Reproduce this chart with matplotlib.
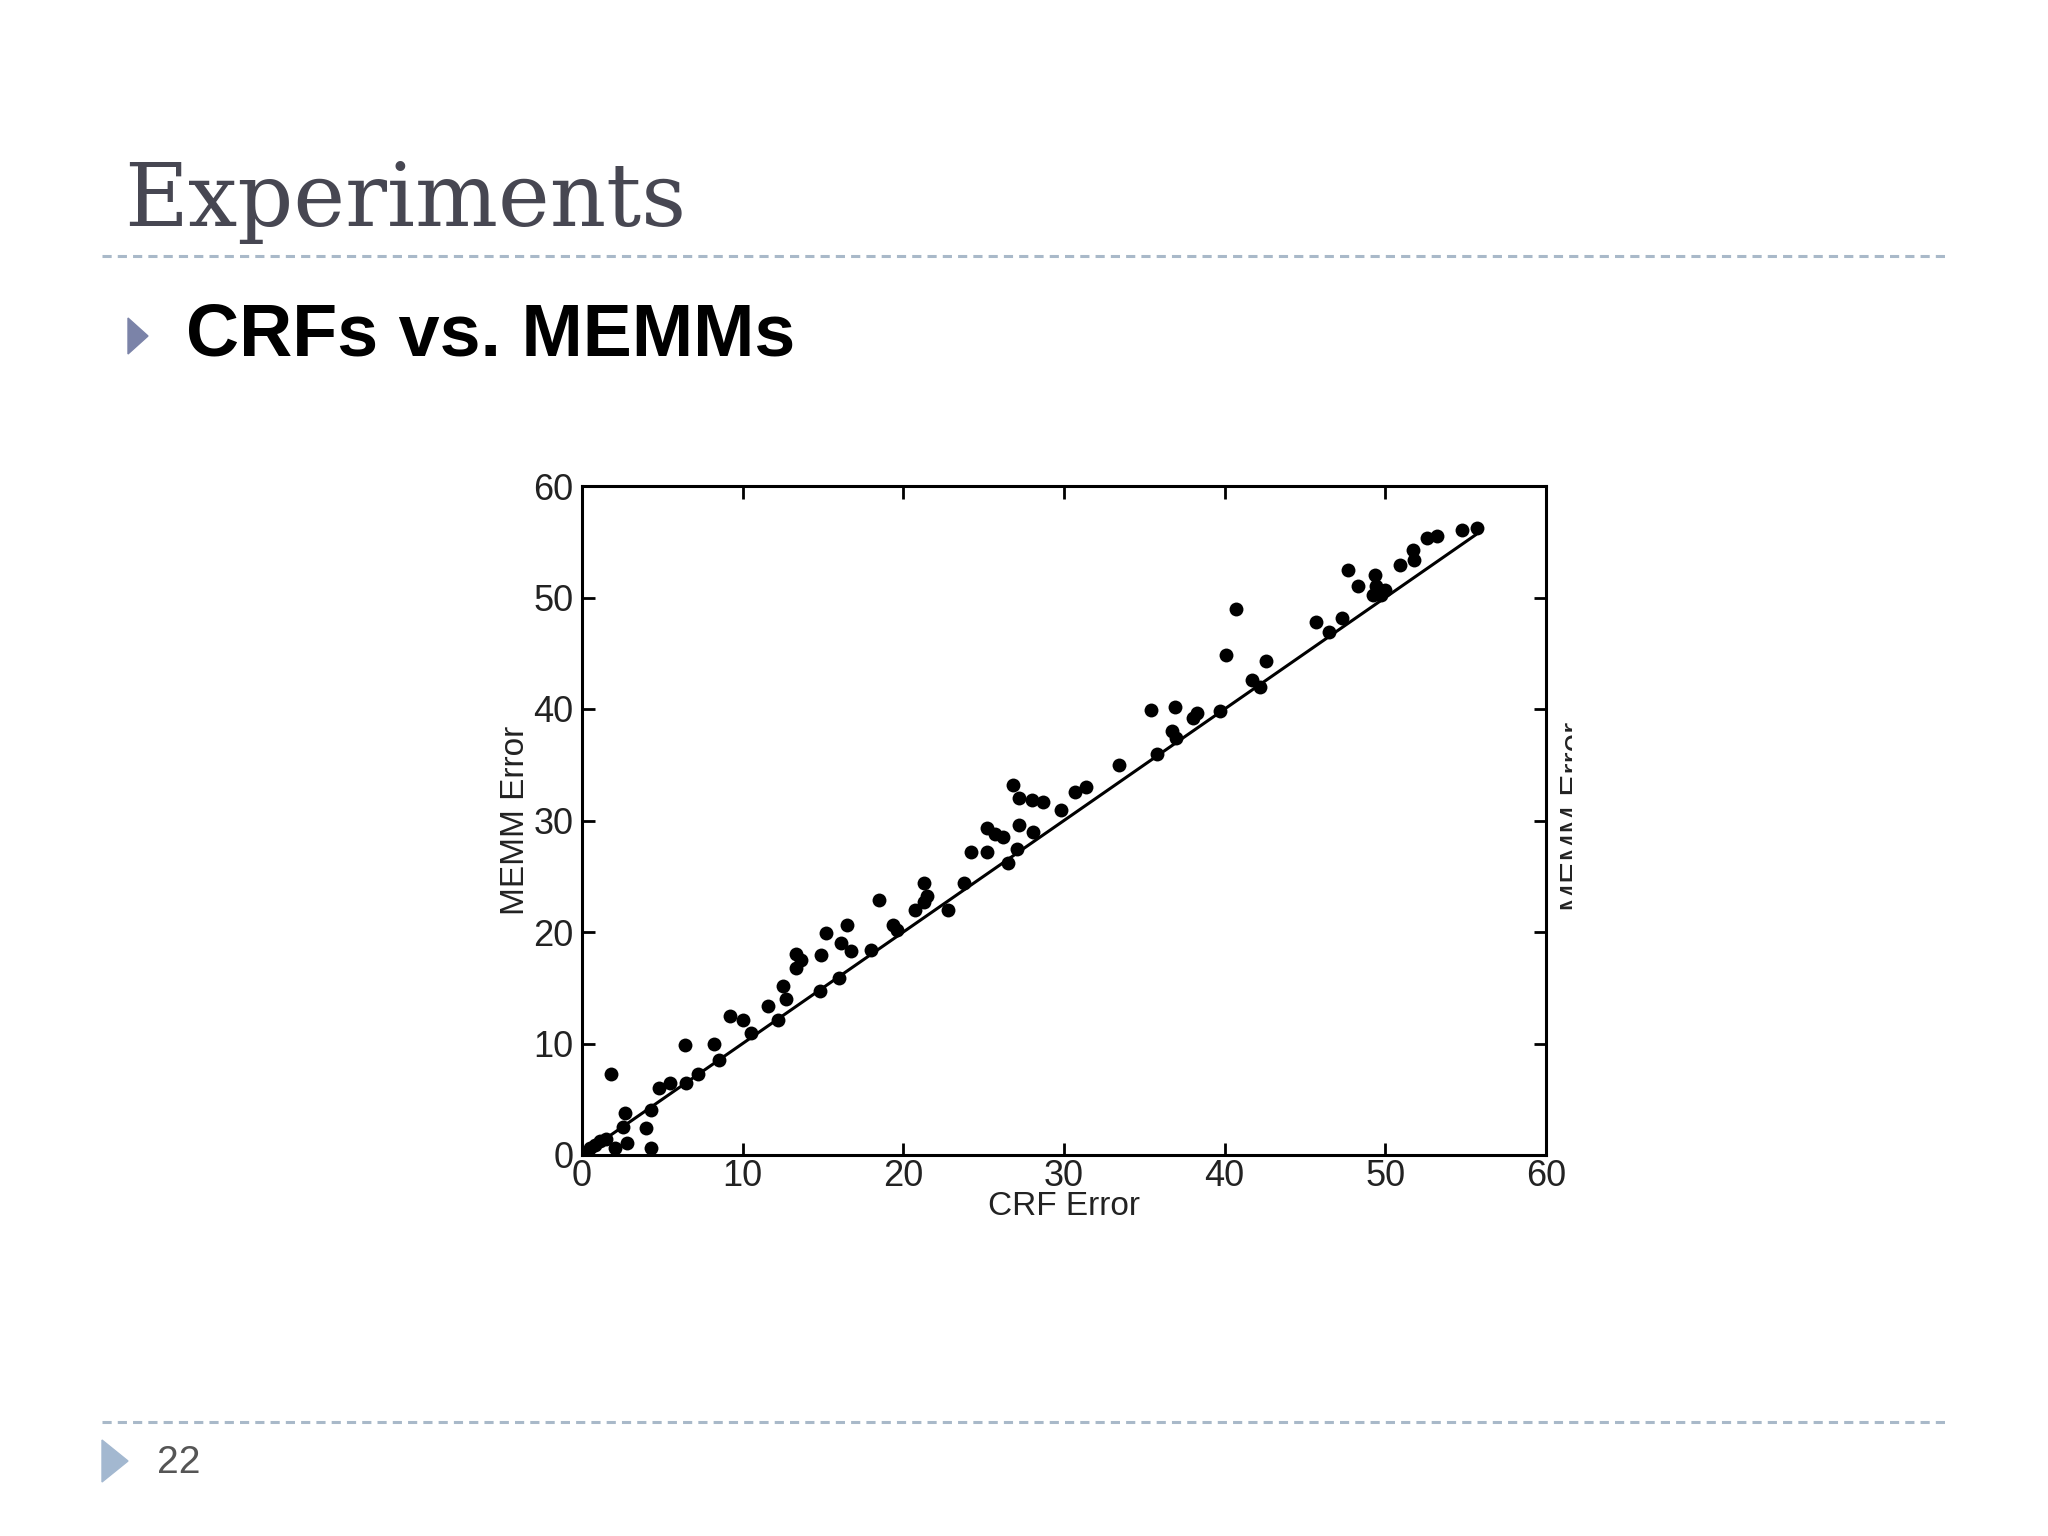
import matplotlib.pyplot as plt
from matplotlib.patches import Polygon

# Error values (CRF error vs MEMM error, in %)
crf_error = [0.3, 0.5, 0.8, 1.1, 1.5, 1.8, 2.05, 2.55, 2.7, 2.8, 4.0, 4.3, 4.3,
             4.8, 5.5, 6.4, 6.5, 7.2, 8.2, 8.5, 9.2, 10.0, 10.5, 11.6, 12.2,
             12.5, 12.7, 13.3, 13.3, 13.6, 14.8, 14.9, 15.2, 16.0, 16.1, 16.5,
             16.75, 18.0, 18.5, 19.35, 19.6, 20.7, 21.3, 21.3, 21.5, 22.8,
             23.8, 24.2, 25.2, 25.2, 25.7, 26.2, 26.5, 26.8, 27.1, 27.2, 27.2,
             28.0, 28.1, 28.7, 29.8, 30.7, 31.4, 33.4, 35.4, 35.8, 36.7, 36.9,
             37.0, 38.0, 38.3, 39.7, 40.1, 40.7, 41.7, 42.2, 42.6, 45.7, 46.5,
             47.3, 47.7, 48.3, 49.25, 49.35, 49.45, 49.7, 50.0, 50.9, 51.7,
             51.8, 52.6, 53.2, 54.8, 55.7]
memm_error = [0.2, 0.6, 0.9, 1.3, 1.4, 7.3, 0.6, 2.5, 3.8, 1.1, 2.4, 0.6, 4.0,
              6.0, 6.5, 9.9, 6.5, 7.3, 10.0, 8.5, 12.5, 12.1, 10.9, 13.4, 12.1,
              15.2, 14.0, 18.0, 16.8, 17.5, 14.7, 17.9, 19.9, 15.9, 19.0, 20.6,
              18.3, 18.4, 22.9, 20.6, 20.2, 22.0, 24.4, 22.7, 23.2, 22.0,
              24.4, 27.2, 27.2, 29.3, 28.8, 28.5, 26.2, 33.2, 27.4, 29.6, 32.0,
              31.8, 29.0, 31.7, 30.9, 32.6, 33.0, 35.0, 39.9, 36.0, 38.0, 40.2,
              37.4, 39.2, 39.6, 39.8, 44.8, 49.0, 42.6, 42.0, 44.3, 47.8, 46.9,
              48.2, 52.5, 51.0, 50.2, 52.0, 51.0, 50.2, 50.7, 52.9, 54.3,
              53.4, 55.3, 55.5, 56.05, 56.2]

# y = x reference line
diag_x = [0, 55.6]
diag_y = [0, 55.6]

ticks = [0, 10, 20, 30, 40, 50, 60]

W, H = 2048, 1536
fig = plt.figure(figsize=(W / 100, H / 100), dpi=100, facecolor='white')

# --- slide decoration -------------------------------------------------------
fig.text(124 / W, 1 - 226 / H, 'Experiments', family='DejaVu Serif',
         fontsize=63, color='#474752', ha='left', va='baseline')

# dashed separators
for y in [256, 1422]:
    fig.add_artist(plt.Line2D([102 / W, 1946 / W], [1 - y / H, 1 - y / H],
                              color='#a9b9c9', lw=2.2, ls=(0, (3, 2))))

# bullet + subtitle
fig.add_artist(Polygon([[128 / W, 1 - 318 / H], [148 / W, 1 - 336 / H], [128 / W, 1 - 354 / H]],
                       closed=True, color='#7b83a8', transform=fig.transFigure))
fig.text(186 / W, 1 - 355 / H, 'CRFs vs. MEMMs', family='Liberation Sans',
         fontweight='bold', fontsize=53, color='black', ha='left', va='baseline')

# page number
fig.add_artist(Polygon([[102 / W, 1 - 1440 / H], [128 / W, 1 - 1461 / H], [102 / W, 1 - 1482 / H]],
                       closed=True, color='#a3b8d0', transform=fig.transFigure))
fig.text(157 / W, 1 - 1473 / H, '22', family='Liberation Sans',
         fontsize=28, color='#555555', ha='left', va='baseline')

# --- scatter plot -------------------------------------------------------------
ax = fig.add_axes([582 / W, 1 - 1155 / H, (1546 - 582) / W, (1155 - 486) / H])
ax.plot(diag_x, diag_y, color='black', lw=2.2)
ax.plot(crf_error, memm_error, 'o', color='black', markersize=10, markeredgewidth=0)

ax.set_xlim(0, 60)
ax.set_ylim(0, 60)
ax.set_xticks(ticks)
ax.set_yticks(ticks)
ax.tick_params(direction='in', length=9, width=2, top=True, right=True,
               labelsize=26, labelcolor='#222222')
ax.tick_params(axis='x', pad=3)
ax.tick_params(axis='y', pad=6)
for lab in ax.get_xticklabels() + ax.get_yticklabels():
    lab.set_family('Liberation Sans')
for s in ax.spines.values():
    s.set_linewidth(2.2)

ax.set_xlabel('CRF Error', family='Liberation Sans', fontsize=24, color='#222222', labelpad=-2)
ax.set_ylabel('MEMM Error', family='Liberation Sans', fontsize=24, color='#222222', labelpad=2)

# cut-off label from the neighbouring figure on the right edge
t = fig.text(1575 / W, 1 - 816 / H, 'MEMM Error', family='Liberation Sans', fontsize=24,
             color='#222222', rotation=90, ha='center', va='center')
clip = plt.Rectangle((1540 / W, 0), 32 / W, 1, transform=fig.transFigure)
t.set_clip_path(clip)

fig.savefig('out.png', dpi=100, facecolor='white')
